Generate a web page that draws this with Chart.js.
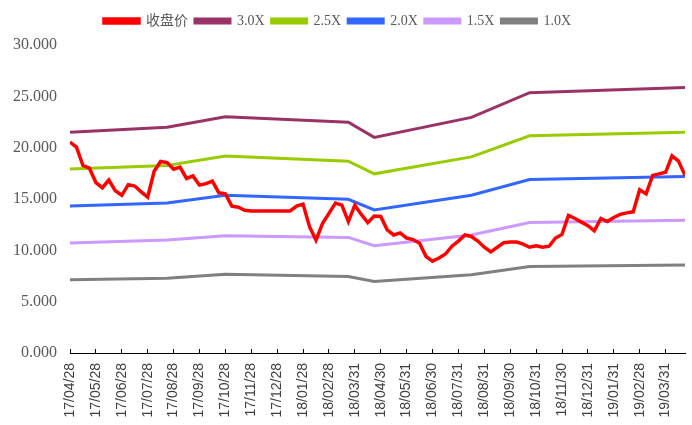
<!DOCTYPE html>
<html lang="zh">
<head>
    <meta charset="UTF-8">
    <title>PB Band</title>
    <script src="https://cdn.jsdelivr.net/npm/chart.js"></script>
    <style>
        body { margin: 0; background: #fff; }
        canvas { display: block; }
    </style>
</head>
<body>
<canvas id="band" width="692" height="425"></canvas>
<script>
    // tick labels, one every 4 points
    const xLabels = ['17/04/28','17/05/28','17/06/28','17/07/28','17/08/28','17/09/28','17/10/28','17/11/28',
        '17/12/28','18/01/28','18/02/28','18/03/31','18/04/30','18/05/31','18/06/30','18/07/31',
        '18/08/31','18/09/30','18/10/31','18/11/30','18/12/31','19/01/31','19/02/28','19/03/31'];

    // 收盘价, one value per point (96 points)
    const closePrice = [
        20.55, 20.06, 18.26, 18.0, 16.6, 16.1, 16.85, 15.8, 15.36, 16.4,
        16.26, 15.7, 15.19, 17.7, 18.65, 18.55, 17.9, 18.1, 17.0, 17.25,
        16.35, 16.5, 16.74, 15.6, 15.5, 14.3, 14.2, 13.9, 13.84, 13.84,
        13.84, 13.84, 13.84, 13.84, 13.84, 14.3, 14.5, 12.3, 11.0, 12.6,
        13.6, 14.6, 14.4, 12.8, 14.4, 13.5, 12.7, 13.35, 13.3, 12.0,
        11.5, 11.7, 11.2, 11.05, 10.7, 9.4, 8.95, 9.25, 9.64, 10.4,
        10.9, 11.5, 11.35, 10.9, 10.3, 9.85, 10.3, 10.75, 10.8, 10.8,
        10.6, 10.3, 10.45, 10.3, 10.4, 11.2, 11.55, 13.4, 13.1, 12.75,
        12.4, 11.9, 13.1, 12.8, 13.2, 13.5, 13.65, 13.75, 15.9, 15.5,
        17.3, 17.45, 17.6, 19.2, 18.7, 17.3
    ];

    // band lines only change direction at these points
    const bandIdx = [0, 15, 24, 43, 47, 62, 71, 95];
    const band30 = [21.5, 22.0, 23.0, 22.48, 21.0, 22.95, 25.36, 25.87];
    const band25 = [17.93, 18.26, 19.19, 18.68, 17.45, 19.1, 21.16, 21.5];
    const band20 = [14.32, 14.6, 15.37, 14.97, 13.94, 15.36, 16.9, 17.2];
    const band15 = [10.71, 11.0, 11.42, 11.26, 10.45, 11.5, 12.71, 12.94];
    const band10 = [7.13, 7.29, 7.68, 7.45, 6.97, 7.62, 8.42, 8.58];

    function toPoints(idx, vals) {
        return vals.map((v, i) => ({ x: idx[i], y: v }));
    }

    function line(label, color, data, width) {
        return {
            label: label,
            data: data,
            borderColor: color,
            backgroundColor: color,
            borderWidth: width,
            pointRadius: 0,
            tension: 0
        };
    }

    // un peu plus d'espace sous la légende, et légende décalée à gauche
    const legendGap = {
        id: 'legendGap',
        beforeUpdate(chart) {
            const lg = chart.legend;
            if (!lg || lg._gapPatched) return;
            const fit = lg.fit;
            const draw = lg.draw;
            lg.fit = function () {
                fit.call(this);
                this.height += 7;
            };
            lg.draw = function () {
                const c = this.ctx;
                c.save();
                c.translate(-5, 0);
                draw.apply(this, arguments);
                c.restore();
            };
            lg._gapPatched = true;
        }
    };

    const ctx = document.getElementById('band').getContext('2d');
    new Chart(ctx, {
        type: 'line',
        data: {
            datasets: [
                line('收盘价', '#ff0000', toPoints(closePrice.map((v, i) => i), closePrice), 3.5),
                line('3.0X', '#993366', toPoints(bandIdx, band30), 3),
                line('2.5X', '#99cc00', toPoints(bandIdx, band25), 3),
                line('2.0X', '#3366ff', toPoints(bandIdx, band20), 3),
                line('1.5X', '#cc99ff', toPoints(bandIdx, band15), 3),
                line('1.0X', '#808080', toPoints(bandIdx, band10), 3)
            ]
        },
        options: {
            responsive: false,
            animation: false,
            layout: { padding: { left: 0, right: 7, top: 7, bottom: 0 } },
            plugins: {
                tooltip: { enabled: false },
                legend: {
                    position: 'top',
                    labels: {
                        boxWidth: 35,
                        boxHeight: 4,
                        padding: 7,
                        color: '#595959',
                        font: { family: "'Liberation Serif', 'Noto Sans CJK SC'", size: 14 }
                    }
                }
            },
            scales: {
                x: {
                    type: 'linear',
                    min: 0,
                    max: closePrice.length - 1,
                    afterFit: s => {
                        s.height = 72;
                        s.paddingLeft = 0;
                        s.paddingRight = 0;
                    },
                    border: { display: true, color: '#000000', width: 1 },
                    // graduations vers l'intérieur
                    grid: { display: true, drawOnChartArea: false, drawTicks: true, tickLength: -4, color: '#000000' },
                    ticks: {
                        stepSize: 4,
                        includeBounds: false,
                        autoSkip: false,
                        maxRotation: 90,
                        minRotation: 90,
                        padding: 14,
                        color: '#404040',
                        font: { family: "'Liberation Sans'", size: 14 },
                        callback: v => (v % 4 === 0 ? xLabels[v / 4] : '')
                    }
                },
                y: {
                    min: 0,
                    max: 30,
                    afterFit: s => { s.width = 70; },
                    border: { display: false },
                    grid: { display: false, drawTicks: false },
                    ticks: {
                        stepSize: 5,
                        padding: 13,
                        color: '#595959',
                        font: { family: "'Liberation Serif'", size: 16 },
                        callback: v => v.toFixed(3)
                    }
                }
            }
        },
        plugins: [legendGap]
    });
</script>
</body>
</html>
